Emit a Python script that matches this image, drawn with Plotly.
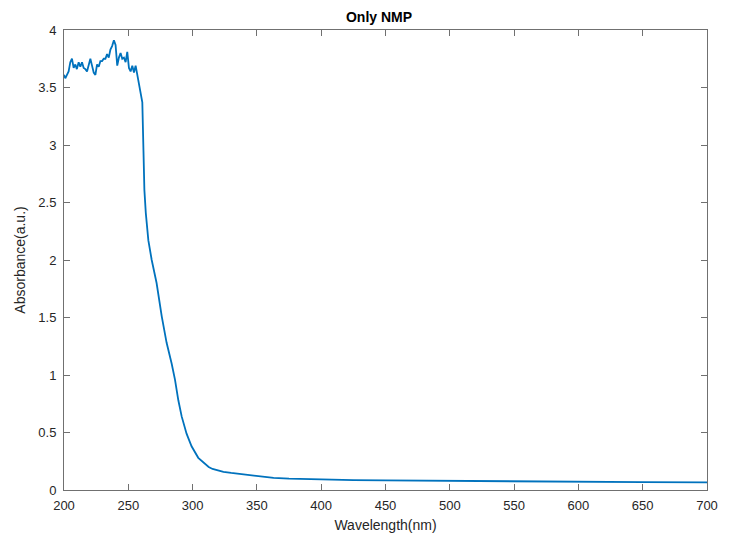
import plotly.graph_objects as go

wavelength = [200, 201, 202.3, 203.6, 204.9, 206.2, 207.5, 208.8, 210, 211.4, 212.7, 214, 215.3,
              216.6, 217.9, 219.2, 220.5, 221.8, 223.1, 224.4, 225.7, 227, 228.3, 229.6, 230.9,
              232.2, 233.5, 234.8, 236.1, 237.4, 238.8, 240.1, 241.4, 242.7, 244, 245.3, 246.6,
              247.9, 249.2, 250.5, 251.8, 253.1, 254.4, 255.7, 257, 258.3, 259.6, 260.9,
              261.8, 262.5, 263.6, 265.6, 268.2, 270.8, 272, 276, 279.8, 283.7, 286.3, 288.9,
              291.5, 295.3, 299.2, 304.4, 309.5, 312.5, 315.5, 319, 324, 330, 338, 346,
              353.5, 363, 375, 388, 400, 425, 450, 500, 550, 600, 650, 700]
absorbance = [3.61, 3.58, 3.61, 3.64, 3.72, 3.75, 3.67, 3.70, 3.66, 3.72, 3.68, 3.72, 3.67,
              3.66, 3.64, 3.69, 3.75, 3.69, 3.63, 3.61, 3.70, 3.68, 3.73, 3.73, 3.75,
              3.75, 3.79, 3.76, 3.83, 3.86, 3.91, 3.87, 3.69, 3.76, 3.80, 3.75, 3.76,
              3.72, 3.81, 3.67, 3.64, 3.69, 3.63, 3.69, 3.61, 3.53, 3.46, 3.37,
              2.95, 2.61, 2.41, 2.17, 2.00, 1.86, 1.80, 1.51, 1.28, 1.10, 0.96, 0.78,
              0.64, 0.49, 0.38, 0.28, 0.225, 0.20, 0.183, 0.170, 0.158, 0.148, 0.137, 0.126,
              0.116, 0.106, 0.099, 0.094, 0.090, 0.086, 0.083, 0.078, 0.075, 0.072, 0.069, 0.066]

x_ticks = [200, 250, 300, 350, 400, 450, 500, 550, 600, 650, 700]
y_ticks = [0, 0.5, 1, 1.5, 2, 2.5, 3, 3.5, 4]
y_tick_labels = ["0", "0.5", "1", "1.5", "2", "2.5", "3", "3.5", "4"]

fig = go.Figure(go.Scatter(x=wavelength, y=absorbance, mode="lines",
                           line=dict(color="#0072BD", width=1.8)))

axis_common = dict(showgrid=False, zeroline=False, showline=True, linecolor="#707070",
                   linewidth=1, mirror="ticks", ticks="inside", ticklen=6,
                   tickcolor="#707070", tickfont=dict(size=13, color="#262626"))

fig.update_layout(
    width=742, height=539,
    margin=dict(l=54, r=43, t=22, b=57),
    paper_bgcolor="white", plot_bgcolor="white",
    font=dict(family="Liberation Sans, Arial, sans-serif", color="#262626"),
    title=dict(text="<b>Only NMP</b>", x=0.5, xanchor="center", y=0.993, yanchor="top",
               font=dict(size=14, color="black")),
    showlegend=False,
)
fig.update_xaxes(range=[200, 700], tickvals=x_ticks, ticklabelstandoff=3,
                 title=dict(text="Wavelength(nm)", font=dict(size=14), standoff=8),
                 **axis_common)
fig.update_yaxes(range=[0, 4], tickvals=y_ticks, ticktext=y_tick_labels, ticklabelstandoff=4,
                 title=dict(text="Absorbance(a.u.)", font=dict(size=14), standoff=9),
                 **axis_common)

fig.write_html("out.html")
